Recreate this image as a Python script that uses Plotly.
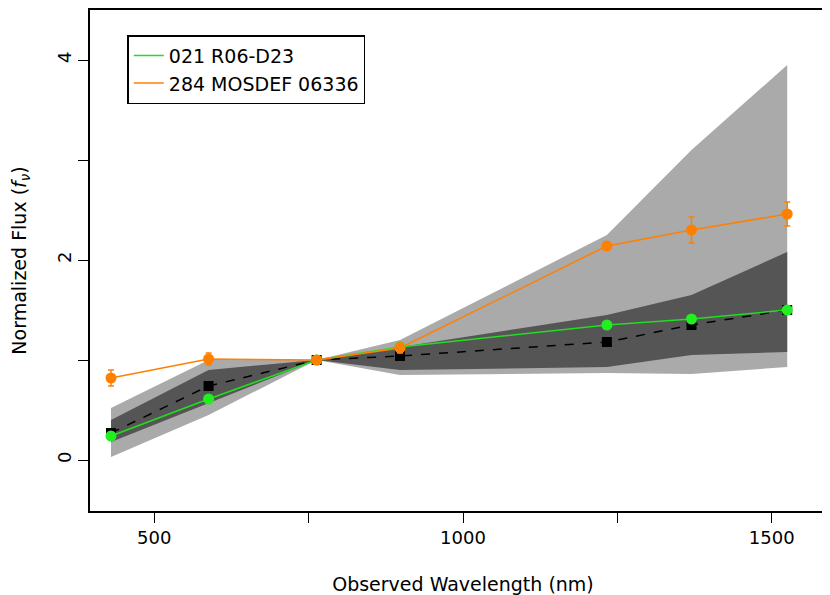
import plotly.graph_objects as go

wave = [430, 588, 763, 898, 1233, 1370, 1525]

light_lo = [0.03, 0.45, 1.0, 0.85, 0.87, 0.86, 0.93]
light_hi = [0.52, 1.0, 1.0, 1.2, 2.25, 3.1, 3.95]
dark_lo = [0.18, 0.57, 1.0, 0.9, 0.93, 1.05, 1.08]
dark_hi = [0.4, 0.9, 1.0, 1.13, 1.45, 1.65, 2.08]
median = [0.27, 0.74, 1.0, 1.04, 1.18, 1.35, 1.5]

green = [0.24, 0.61, 1.0, 1.13, 1.35, 1.41, 1.5]
orange = [0.82, 1.01, 1.0, 1.12, 2.14, 2.3, 2.46]
orange_err = [0.08, 0.06, 0.03, 0.05, 0.04, 0.13, 0.12]

fig = go.Figure()

# bands
fig.add_trace(go.Scatter(x=wave, y=light_lo, mode="lines", line=dict(width=0), showlegend=False, hoverinfo="skip"))
fig.add_trace(go.Scatter(x=wave, y=light_hi, mode="lines", line=dict(width=0), fill="tonexty",
                         fillcolor="#aaaaaa", showlegend=False, hoverinfo="skip"))
fig.add_trace(go.Scatter(x=wave, y=dark_lo, mode="lines", line=dict(width=0), showlegend=False, hoverinfo="skip"))
fig.add_trace(go.Scatter(x=wave, y=dark_hi, mode="lines", line=dict(width=0), fill="tonexty",
                         fillcolor="#555555", showlegend=False, hoverinfo="skip"))

fig.add_trace(go.Scatter(x=wave, y=median, mode="lines+markers", showlegend=False,
                         line=dict(color="black", dash="dash", width=1.5),
                         marker=dict(symbol="square", size=10, color="black")))

fig.add_trace(go.Scatter(x=wave, y=green, mode="lines+markers", showlegend=False,
                         line=dict(color="#22dd22", width=1.5),
                         marker=dict(size=11, color="#22ee22")))
fig.add_trace(go.Scatter(x=wave, y=orange, mode="lines+markers", showlegend=False,
                         line=dict(color="#ff8000", width=1.5),
                         marker=dict(size=11, color="#ff8000"),
                         error_y=dict(type="data", array=orange_err, color="#ff8000", thickness=1.5, width=3)))

# legend entries (line only)
fig.add_trace(go.Scatter(x=[None], y=[None], mode="lines", name="021 R06-D23",
                         line=dict(color="#22dd22", width=1.5)))
fig.add_trace(go.Scatter(x=[None], y=[None], mode="lines", name="284 MOSDEF 06336",
                         line=dict(color="#ff8000", width=1.5)))

axis = dict(showline=True, linecolor="black", linewidth=1.5, mirror="ticks", ticks="outside",
            ticklen=10, tickcolor="black", showgrid=False, zeroline=False, automargin=False,
            tickfont=dict(size=18, color="black"))

fig.update_layout(
    width=830, height=595,
    paper_bgcolor="white", plot_bgcolor="white",
    margin=dict(l=82, r=2, t=2, b=92),
    font=dict(family="DejaVu Sans", color="black"),
    xaxis=dict(axis, range=[396, 1604], tickvals=[500, 1000, 1500],
               minor=dict(tickvals=[750, 1250], ticklen=10, ticks="outside", tickcolor="black"),
               title=dict(text="Observed Wavelength (nm)", font=dict(size=19), standoff=30)),
    yaxis=dict(axis, range=[-0.51, 4.5], tickvals=[0, 2, 4], tickangle=-90,
               minor=dict(tickvals=[1, 3], ticklen=10, ticks="outside", tickcolor="black"),
               title=dict(text="Normalized Flux (<i>f<sub>ν</sub></i>)", font=dict(size=19), standoff=30)),
    legend=dict(x=0.05, y=0.95, xanchor="left", yanchor="top", bgcolor="white", traceorder="normal",
                bordercolor="black", borderwidth=1.5, font=dict(size=19)),
)

fig.write_html("out.html")
